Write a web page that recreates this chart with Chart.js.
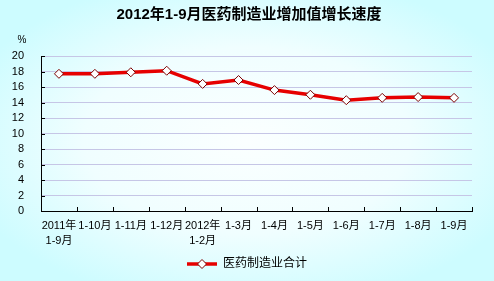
<!DOCTYPE html>
<html>
<head>
<meta charset="utf-8">
<script src="https://cdn.jsdelivr.net/npm/chart.js@4/dist/chart.umd.min.js"></script>
<style>
    html, body { margin: 0; padding: 0; }
    body {
        width: 494px;
        height: 281px;
        background: radial-gradient(ellipse 60% 60% at 50% 50%, #fbffff 0%, #f0feff 55%, #cdfcff 100%);
        overflow: hidden;
    }
    #wrap { position: relative; width: 494px; height: 281px; }
</style>
</head>
<body>
<div id="wrap"><canvas id="c" width="494" height="281"></canvas></div>
<script>
const TITLE        = '2012年1-9月医药制造业增加值增长速度';
const SERIES_NAME  = '医药制造业合计';
const CATEGORIES   = [
    ['2011年', '1-9月'], '1-10月', '1-11月', '1-12月', ['2012年', '1-2月'],
    '1-3月', '1-4月', '1-5月', '1-6月', '1-7月', '1-8月', '1-9月',
];
const GROWTH       = [17.7, 17.7, 17.9, 18.1, 16.4, 16.9, 15.6, 15.0, 14.3, 14.6, 14.7, 14.6];
const Y_MIN        = 0;
const Y_MAX        = 20;
const Y_STEP       = 2;
const Y_UNIT       = '%';

const FONT_FAMILY = '"Liberation Sans", "Noto Sans CJK SC", sans-serif';
const LINE_COLOR  = '#e60000';
const POINT_EDGE  = '#7a0000';
const GRID_COLOR  = '#c6c6e6';

// legend marker: line with a diamond in the middle
function legendMarker() {
    const cv  = document.createElement('canvas');
    cv.width  = 30;
    cv.height = 12;
    const g   = cv.getContext('2d');
    g.strokeStyle = LINE_COLOR;
    g.lineWidth   = 3.5;
    g.beginPath();
    g.moveTo(0, 6);
    g.lineTo(30, 6);
    g.stroke();
    g.fillStyle   = '#ffffff';
    g.strokeStyle = POINT_EDGE;
    g.lineWidth   = 1;
    g.beginPath();
    g.moveTo(15, 1.5);
    g.lineTo(19.5, 6);
    g.lineTo(15, 10.5);
    g.lineTo(10.5, 6);
    g.closePath();
    g.fill();
    g.stroke();
    return cv;
}

const extras = {
    id : 'extras',
    afterDraw(chart) {
        const { ctx, chartArea, scales } = chart;
        ctx.save();

        // inward tick marks
        ctx.strokeStyle = '#000';
        ctx.lineWidth   = 1;
        ctx.beginPath();
        scales.y.ticks.forEach((t, i) => {
            const y = Math.round(scales.y.getPixelForTick(i)) + 0.5;
            ctx.moveTo(chartArea.left, y);
            ctx.lineTo(chartArea.left + 4, y);
        });
        const n = CATEGORIES.length;
        const w = (chartArea.right - chartArea.left) / n;
        for (let i = 1; i <= n; i++) {
            const x = Math.round(chartArea.left + i * w) + 0.5;
            ctx.moveTo(x, chartArea.bottom);
            ctx.lineTo(x, chartArea.bottom - 4);
        }
        ctx.stroke();

        // unit label
        ctx.fillStyle    = '#000';
        ctx.font         = '10px ' + FONT_FAMILY;
        ctx.textAlign    = 'center';
        ctx.textBaseline = 'middle';
        ctx.fillText(Y_UNIT, 22, 40);

        // title
        ctx.font = 'bold 15px ' + FONT_FAMILY;
        ctx.fillText(TITLE, 249, 15);
        ctx.restore();
    },
};

new Chart(document.getElementById('c'), {
    type : 'line',
    data : {
        labels   : CATEGORIES,
        datasets : [{
            label                : SERIES_NAME,
            data                 : GROWTH,
            borderColor          : LINE_COLOR,
            borderWidth          : 3.5,
            tension              : 0,
            fill                 : false,
            pointStyle           : 'rectRot',
            pointRadius          : 4.5,
            pointBackgroundColor : '#ffffff',
            pointBorderColor     : POINT_EDGE,
            pointBorderWidth     : 1,
        }],
    },
    options : {
        responsive : false,
        animation  : false,
        layout     : { padding: { top: 56, left: 0, right: 0, bottom: 1 } },
        plugins    : {
            title   : { display: false },
            tooltip : { enabled: false },
            legend  : {
                position : 'bottom',
                labels   : {
                    usePointStyle   : true,
                    pointStyleWidth : 30,
                    padding         : 10,
                    color           : '#000',
                    font            : { family: FONT_FAMILY, size: 12 },
                    generateLabels  : (chart) => [{
                        text         : SERIES_NAME,
                        pointStyle   : legendMarker(),
                        fillStyle    : LINE_COLOR,
                        strokeStyle  : LINE_COLOR,
                        lineWidth    : 0,
                        datasetIndex : 0,
                    }],
                },
            },
        },
        scales : {
            x : {
                offset : true,
                grid   : { display: true, drawOnChartArea: false, drawTicks: false, offset: true },
                border : { display: true, color: '#000', width: 1 },
                ticks  : {
                    autoSkip    : false,
                    maxRotation : 0,
                    padding     : 7,
                    color       : '#000',
                    font        : { family: FONT_FAMILY, size: 11, lineHeight: 1.4 },
                },
                afterFit : (s) => { s.height = 37; },
            },
            y : {
                min    : Y_MIN,
                max    : Y_MAX,
                grid   : { color: GRID_COLOR, drawTicks: false },
                border : { display: true, color: '#000', width: 1 },
                ticks  : {
                    stepSize : Y_STEP,
                    autoSkip : false,
                    padding  : 17,
                    color    : '#000',
                    font     : { family: FONT_FAMILY, size: 11 },
                },
                afterFit : (s) => { s.width = 41; },
            },
            pad : {
                position : 'right',
                display  : true,
                grid     : { display: false, drawTicks: false },
                border   : { display: false },
                ticks    : { display: false },
                afterFit : (s) => { s.width = 22; },
            },
        },
    },
    plugins : [extras],
});
</script>
</body>
</html>
